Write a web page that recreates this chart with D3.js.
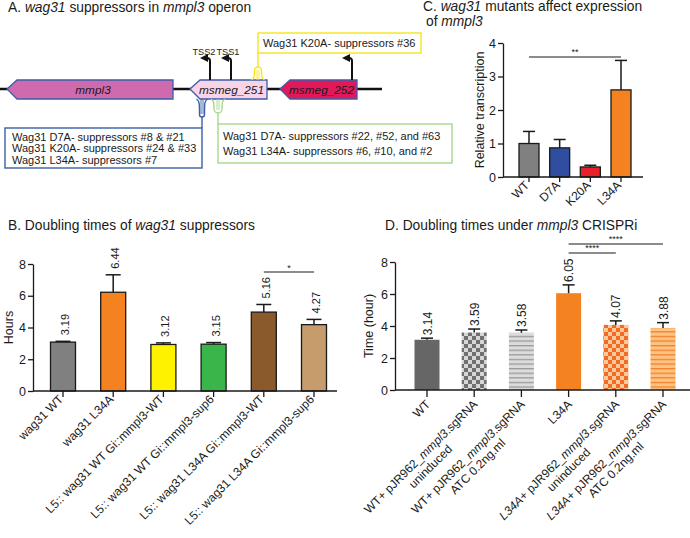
<!DOCTYPE html>
<html><head><meta charset="utf-8">
<script src="https://cdn.jsdelivr.net/npm/d3@7"></script>
<style>body{margin:0;background:#fff}svg{font-family:Arial,"Liberation Sans",Helvetica,sans-serif}</style>
</head><body><svg id="c" width="690" height="538"></svg>
<script>
// ---------- DATA ----------
// Panel A (schematic map units)
const aGenes = ["mmpl3", "msmeg_251", "msmeg_252"];
const aGeneTip = [7, 190, 280];
const aGeneEnd = [173, 267, 357];
const aTssNames = ["TSS2", "TSS1", ""];
const aTssPos = [210, 231, 352];
const aBlueText = ["Wag31 D7A- suppressors #8 & #21", "Wag31 K20A- suppressors #24 & #33", "Wag31 L34A- suppressors #7"];
const aGreenText = ["Wag31 D7A- suppressors #22, #52, and #63", "Wag31 L34A- suppressors #6, #10, and #2"];
const aYellowText = ["Wag31 K20A- suppressors #36"];

// Panel B
const bCats = ["wag31 WT", "wag31 L34A", "L5:: wag31 WT Gi::mmpl3-WT", "L5:: wag31 WT Gi::mmpl3-sup6", "L5:: wag31 L34A Gi::mmpl3-WT", "L5:: wag31 L34A Gi::mmpl3-sup6"];
const bVals = [3.08, 6.22, 2.93, 2.95, 4.97, 4.18];
const bSD = [0.05, 1.1, 0.1, 0.1, 0.48, 0.33];
const bLabels = ["3.19", "6.44", "3.12", "3.15", "5.16", "4.27"];
const bTicks = [0, 2, 4, 6, 8];

// Panel C
const cCats = ["WT", "D7A", "K20A", "L34A"];
const cVals = [1.0, 0.87, 0.30, 2.60];
const cSD = [0.36, 0.25, 0.05, 0.88];
const cTicks = [0, 1, 2, 3, 4];

// Panel D
const dLine1 = ["WT", "WT+ pJR962_mmpl3.sgRNA", "WT+ pJR962_mmpl3.sgRNA", "L34A", "L34A+ pJR962_mmpl3.sgRNA", "L34A+ pJR962_mmpl3.sgRNA"];
const dLine2 = ["", "uninduced", "ATC 0.2ng.ml", "", "uninduced", "ATC 0.2ng.ml"];
const dVals = [3.14, 3.59, 3.58, 6.05, 4.07, 3.88];
const dSD = [0.1, 0.22, 0.17, 0.52, 0.25, 0.33];
const dLabels = ["3.14", "3.59", "3.58", "6.05", "4.07", "3.88"];
const dTicks = [0, 2, 4, 6, 8];

// ---------- STYLE ----------
const geneFill = ["#cf6aae", "#f9d3e8", "#e2185b"];
const geneStroke = "#3b5ea6";
const tssDx = [-6, -3, 0];
const bFill = ["#808080", "#f58220", "#fff200", "#3ab54a", "#8b5a2b", "#c69c6d"];
const cFill = ["#808080", "#2f4e9f", "#e8202a", "#f58220"];
const dFill = ["#666666", "url(#chkGray)", "url(#strGray)", "#f58220", "url(#chkOr)", "url(#strOr)"];
const TITLE = 13.8, LAB = 12, TICK = 12.5;

const svg = d3.select("#c");
const ink = "#1a1a1a";

// patterns
const defs = svg.append("defs");
function checker(id, bg, fg) {
  const p = defs.append("pattern").attr("id", id).attr("patternUnits", "userSpaceOnUse").attr("width", 8).attr("height", 8);
  p.append("rect").attr("width", 8).attr("height", 8).attr("fill", bg);
  p.append("rect").attr("width", 4).attr("height", 4).attr("fill", fg);
  p.append("rect").attr("x", 4).attr("y", 4).attr("width", 4).attr("height", 4).attr("fill", fg);
}
function stripes(id, bg, fg) {
  const p = defs.append("pattern").attr("id", id).attr("patternUnits", "userSpaceOnUse").attr("width", 10).attr("height", 4.6);
  p.append("rect").attr("width", 10).attr("height", 4.6).attr("fill", bg);
  p.append("rect").attr("y", 0).attr("width", 10).attr("height", 1.3).attr("fill", fg);
}
checker("chkGray", "#d6d6d6", "#707070");
stripes("strGray", "#dcdcdc", "#9a9a9a");
checker("chkOr", "#fdc99a", "#f26b22");
stripes("strOr", "#fdc382", "#f4802b");

function title(x, y, parts, size) {
  const t = svg.append("text").attr("x", x).attr("y", y).attr("font-size", size).attr("fill", ink);
  parts.forEach(p => t.append("tspan").attr("font-style", p[1] ? "italic" : "normal").text(p[0]));
}

// ---------- PANEL A ----------
title(8, 12, [["A. ", 0], ["wag31", 1], [" suppressors in ", 0], ["mmpl3", 1], [" operon", 0]], TITLE);
const mx = d3.scaleLinear().domain([0, 382]).range([0, 382]);
const gA = svg.append("g");
const yMid = 89, gTop = 80, gBot = 99, head = 10;
gA.append("line").attr("x1", mx(0)).attr("x2", mx(382)).attr("y1", yMid).attr("y2", yMid).attr("stroke", "#111").attr("stroke-width", 2.6);
aGenes.forEach((g, i) => {
  const s = mx(aGeneTip[i]), e = mx(aGeneEnd[i]);
  gA.append("path").attr("d", `M${s},${yMid} L${s + head},${gTop} L${e},${gTop} L${e},${gBot} L${s + head},${gBot} Z`)
    .attr("fill", geneFill[i]).attr("stroke", geneStroke).attr("stroke-width", 1.3);
  gA.append("text").attr("x", (s + head + e) / 2 - 2).attr("y", yMid + 4.5).attr("text-anchor", "middle")
    .attr("font-size", 11.8).attr("font-style", "italic").attr("fill", ink).text(g);
});
// TSS arrows
defs.append("marker").attr("id", "arr").attr("viewBox", "0 0 6 6").attr("refX", 3).attr("refY", 3)
  .attr("markerWidth", 4).attr("markerHeight", 4).attr("orient", "auto")
  .append("path").attr("d", "M0,0 L6,3 L0,6 Z").attr("fill", "#111");
aTssPos.forEach((p, i) => {
  const x = mx(p);
  gA.append("path").attr("d", `M${x},${gTop} V61 Q${x},58 ${x - 3},58 H${x - 6}`).attr("fill", "none")
    .attr("stroke", "#111").attr("stroke-width", 2).attr("marker-end", "url(#arr)");
  if (aTssNames[i]) gA.append("text").attr("x", x + tssDx[i]).attr("y", 55).attr("text-anchor", "middle")
    .attr("font-size", 9.2).attr("fill", ink).text(aTssNames[i]);
});
// hairpins
function hairpin(cx, y0, len, dir, col, w) {
  const y1 = y0 + dir * len;
  const d = `M${cx - w - 3},${y0} C${cx - w},${y0 + dir * 2} ${cx - w},${y0 + dir * 4} ${cx - w},${y1 - dir * w} A${w},${w} 0 0 ${dir > 0 ? 0 : 1} ${cx + w},${y1 - dir * w} C${cx + w},${y0 + dir * 4} ${cx + w},${y0 + dir * 2} ${cx + w + 3},${y0}`;
  gA.append("path").attr("d", d).attr("fill", "none").attr("stroke", col).attr("stroke-width", 1.4);
  gA.append("path").attr("d", `M${cx - 1},${y0} V${y1 - dir * 3} M${cx + 1},${y0} V${y1 - dir * 3}`).attr("fill", "none").attr("stroke", col).attr("stroke-width", 0.9);
  return y1;
}
const blue = "#3b5ea6", green = "#a8d88c", yellow = "#f7e51c";
const BOX = 11;
// blue
let yb = hairpin(mx(202), gBot, 18, 1, blue, 2.5);
gA.append("line").attr("x1", mx(202)).attr("x2", mx(202)).attr("y1", yb).attr("y2", 128).attr("stroke", blue).attr("stroke-width", 1.4);
gA.append("rect").attr("x", 5).attr("y", 128).attr("width", mx(202) - 5).attr("height", 40).attr("fill", "#fff").attr("stroke", blue).attr("stroke-width", 1.4);
aBlueText.forEach((t, i) => gA.append("text").attr("x", 12).attr("y", 141 + i * 11.3).attr("font-size", BOX).attr("fill", ink).text(t));
// green
let yg = hairpin(mx(218), gBot, 14, 1, green, 4);
gA.append("line").attr("x1", mx(218)).attr("x2", mx(218)).attr("y1", yg).attr("y2", 124).attr("stroke", green).attr("stroke-width", 1.4);
gA.append("rect").attr("x", mx(218)).attr("y", 124).attr("width", 452 - mx(218)).attr("height", 39).attr("fill", "#fff").attr("stroke", green).attr("stroke-width", 1.4);
aGreenText.forEach((t, i) => gA.append("text").attr("x", mx(218) + 5).attr("y", 140 + i * 15).attr("font-size", BOX).attr("fill", ink).text(t));
// yellow
let yy = hairpin(mx(258), gTop, 13, -1, yellow, 3.5);
gA.append("line").attr("x1", mx(258)).attr("x2", mx(258)).attr("y1", yy).attr("y2", 53).attr("stroke", yellow).attr("stroke-width", 1.4);
gA.append("rect").attr("x", mx(258)).attr("y", 33).attr("width", 421 - mx(258)).attr("height", 20).attr("fill", "#fff").attr("stroke", yellow).attr("stroke-width", 1.4);
aYellowText.forEach((t, i) => gA.append("text").attr("x", mx(258) + 5).attr("y", 47).attr("font-size", BOX).attr("fill", ink).text(t));

// ---------- generic bar chart ----------
function italicParts(sel, str, tokens) {
  if (!tokens.length) { sel.text(str); return; }
  const re = new RegExp("(" + tokens.map(t => t.replace(/[.+]/g, "\\$&")).join("|") + ")");
  str.split(re).filter(s => s.length).forEach(s => sel.append("tspan").attr("font-style", tokens.includes(s) ? "italic" : "normal").text(s));
}
function barChart(o) {
  const g = svg.append("g");
  const x = d3.scalePoint().domain(d3.range(o.vals.length)).range(o.xr);
  const y = d3.scaleLinear().domain([0, d3.max(o.ticks)]).range(o.yr);
  g.selectAll("rect.bar").data(o.vals).join("rect").attr("class", "bar")
    .attr("x", (d, i) => x(i) - o.bw / 2).attr("width", o.bw)
    .attr("y", d => y(d)).attr("height", d => y(0) - y(d))
    .attr("fill", (d, i) => o.fill[i]).attr("stroke", o.stroke ? ink : "none").attr("stroke-width", 1.3);
  o.vals.forEach((v, i) => {
    const t = y(v + o.sd[i]);
    g.append("line").attr("x1", x(i)).attr("x2", x(i)).attr("y1", y(v)).attr("y2", t).attr("stroke", ink).attr("stroke-width", 1.5);
    g.append("line").attr("x1", x(i) - o.cap / 2).attr("x2", x(i) + o.cap / 2).attr("y1", t).attr("y2", t).attr("stroke", ink).attr("stroke-width", 1.5);
    if (o.labels) g.append("text").attr("transform", `translate(${x(i) + o.vdx},${t - o.lgap}) rotate(-90)`)
      .attr("font-size", o.vfs).attr("fill", ink).text(o.labels[i]);
  });
  const ya = g.append("g").attr("transform", `translate(${o.xa[0]},0)`)
    .call(d3.axisLeft(y).tickValues(o.ticks).tickSize(5).tickSizeOuter(0).tickPadding(2).tickFormat(d3.format("d")));
  ya.selectAll("text").attr("font-size", TICK).attr("fill", ink).attr("font-family", null);
  ya.selectAll("line,path").attr("stroke", ink).attr("stroke-width", 1.3);
  g.append("line").attr("x1", o.xa[0]).attr("x2", o.xa[1]).attr("y1", y(0)).attr("y2", y(0)).attr("stroke", ink).attr("stroke-width", 1.3);
  o.vals.forEach((v, i) => g.append("line").attr("x1", x(i)).attr("x2", x(i)).attr("y1", y(0)).attr("y2", y(0) + o.tick).attr("stroke", ink).attr("stroke-width", 1.3));
  g.append("text").attr("transform", `translate(${o.ytx},${(o.yr[0] + o.yr[1]) / 2}) rotate(-90)`)
    .attr("text-anchor", "middle").attr("font-size", 12.5).attr("fill", ink).text(o.ytitle);
  o.cats.forEach((c, i) => {
    const lg = g.append("g").attr("transform", `translate(${x(i) + o.lx},${y(0) + o.ly}) rotate(-45)`);
    const t1 = lg.append("text").attr("text-anchor", "end").attr("font-size", LAB).attr("fill", ink);
    italicParts(t1, c, o.italic || []);
    if (o.cats2 && o.cats2[i]) {
      const w = t1.node().getComputedTextLength();
      const t2 = lg.append("text").attr("x", -w / 2).attr("y", LAB * 1.15).attr("text-anchor", "middle").attr("font-size", LAB).attr("fill", ink);
      italicParts(t2, o.cats2[i], o.italic || []);
    }
  });
  (o.sig || []).forEach(s => {
    g.append("line").attr("x1", x(s.a)).attr("x2", x(s.b)).attr("y1", s.y).attr("y2", s.y).attr("stroke", ink).attr("stroke-width", 1.2);
    g.append("text").attr("x", (x(s.a) + x(s.b)) / 2).attr("y", s.y + s.dy).attr("text-anchor", "middle").attr("font-size", 9).attr("fill", ink).text(s.t);
  });
  return { x, y };
}

// ---------- PANEL C ----------
title(423, 11, [["C. ", 0], ["wag31", 1], [" mutants affect expression", 0]], TITLE);
title(426, 26, [[" of ", 0], ["mmpl3", 1]], TITLE);
barChart({
  vals: cVals, sd: cSD, cats: cCats, fill: cFill, stroke: true, ticks: cTicks,
  xr: [529, 621], yr: [177, 43], xa: [503, 643], bw: 20, cap: 12, tick: 5,
  ytitle: "Relative transcription", ytx: 484, lx: 1, ly: 9,
  sig: [{ a: 0, b: 3, y: 57, dy: -2, t: "**" }]
});

// ---------- PANEL B ----------
title(8, 230, [["B. Doubling times of ", 0], ["wag31", 1], [" suppressors", 0]], TITLE);
barChart({
  vals: bVals, sd: bSD, cats: bCats, fill: bFill, stroke: true, ticks: bTicks, labels: bLabels, lgap: 6, vfs: 11, vdx: 6,
  xr: [63, 314], yr: [391, 264], xa: [33, 337], bw: 25, cap: 15, tick: 6,
  ytitle: "Hours", ytx: 13, lx: 1, ly: 9,
  sig: [{ a: 4, b: 5, y: 272, dy: -1, t: "*" }]
});

// ---------- PANEL D ----------
title(385, 230, [["D. Doubling times under ", 0], ["mmpl3", 1], [" CRISPRi", 0]], TITLE);
barChart({
  vals: dVals, sd: dSD, cats: dLine1, cats2: dLine2, fill: dFill, stroke: false, ticks: dTicks, labels: dLabels, lgap: 3, vfs: 12, vdx: 4.5,
  xr: [427, 663], yr: [390, 262], xa: [395, 690], bw: 25, cap: 12, tick: 7,
  ytitle: "Time (hour)", ytx: 373, lx: 4, ly: 15, italic: ["mmpl3", "L34A+"],
  sig: [{ a: 3, b: 4, y: 253, dy: -2, t: "****" }, { a: 3, b: 5, y: 244, dy: -2, t: "****" }]
});
</script></body></html>
